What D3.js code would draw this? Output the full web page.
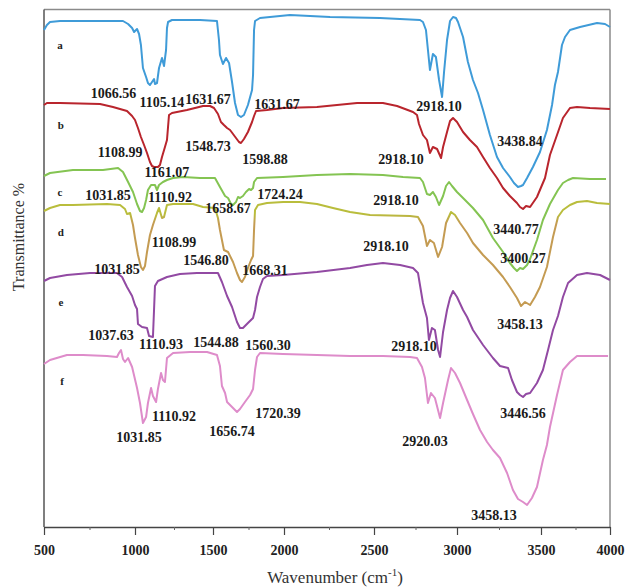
<!DOCTYPE html>
<html><head><meta charset="utf-8">
<script src="https://cdn.jsdelivr.net/npm/d3@7"></script>
<style>body{margin:0;background:#fff}svg{display:block}</style>
</head><body><svg id="c" width="632" height="587"></svg>
<script>
// ---- data (wavenumber cm-1, transmittance %, stacked/offset spectra) ----
const xTicks = [500,1000,1500,2000,2500,3000,3500,4000];
const xMinorTicks = [750,1250,1750,2250,2750,3250,3750];
const seriesNames = ["a","b","c","d","e","f"];

const seriesA = [[500,99.4],[516,100.4],[533,101],[588,101.2],[753,101.2],[934,101.2],[962,100.6],[984,99.8],[995,99],[1013,99.6],[1026,98.6],[1038,96.4],[1051,91.8],[1071,90],[1083,88.8],[1096,88.4],[1109,89],[1122,89.6],[1128,88.6],[1141,88.8],[1154,91.8],[1173,93.8],[1186,92.2],[1199,95.4],[1205,99.8],[1212,101],[1237,101.4],[1417,101.4],[1528,101.2],[1542,97.4],[1549,94.4],[1570,92.6],[1592,93.8],[1613,92.8],[1634,89],[1655,84.8],[1676,82.4],[1697,82],[1718,82.4],[1746,84.4],[1775,87.4],[1782,90.4],[1789,99.4],[1796,101.2],[1831,101.8],[2033,102.4],[2256,102],[2536,101.8],[2777,101.4],[2795,101],[2813,99.4],[2825,95.4],[2837,91.4],[2855,94.6],[2873,94],[2892,89.4],[2910,86],[2922,91],[2940,97.4],[2958,101.2],[2976,102],[2994,101.8],[3006,101],[3036,98],[3065,93],[3095,89.4],[3125,86.8],[3155,83.4],[3196,78.4],[3238,74],[3274,71.8],[3315,70],[3339,68.8],[3363,68],[3381,68.2],[3393,68.4],[3417,69.8],[3452,72],[3494,75],[3543,79.4],[3580,84.4],[3601,88.4],[3623,91],[3652,96.4],[3674,98],[3710,99.4],[3783,100],[3906,100.8],[3964,100.6],[4000,100]];

const seriesB = [[500,84.4],[516,84.8],[588,84.8],[808,84.6],[879,84],[956,83.2],[984,82.2],[1000,81.4],[1019,79.8],[1038,78],[1058,76.4],[1077,74.8],[1096,73],[1109,72.2],[1122,72],[1147,72],[1160,72.4],[1173,74],[1192,76],[1205,77.4],[1218,82.4],[1237,82.8],[1333,83.4],[1436,84.2],[1481,84.2],[1507,83.8],[1535,82.6],[1556,81],[1577,80.4],[1599,79.8],[1620,79.4],[1641,78.6],[1662,77.8],[1683,77],[1697,76.8],[1718,77.6],[1746,79],[1775,81],[1789,82.2],[1803,83.2],[1880,83.4],[1993,83.8],[2183,84],[2406,84.8],[2554,84.8],[2639,84.2],[2735,83],[2759,82.4],[2771,80.6],[2795,78.4],[2819,77.4],[2837,74.8],[2855,76],[2880,75.6],[2904,73.8],[2916,76],[2940,79],[2958,81.2],[2976,81.8],[3000,81],[3036,79],[3077,77.4],[3119,76],[3155,74],[3196,71.8],[3238,69.8],[3274,67.8],[3315,66.2],[3357,64.8],[3375,64],[3393,63.6],[3411,64.2],[3435,64],[3476,66],[3529,69.8],[3565,74.4],[3616,78.4],[3659,81.8],[3710,83.8],[3761,84],[3855,83.8],[4000,83.6]];

const seriesC = [[500,70.2],[533,70.8],[659,71.4],[824,71.4],[907,71.8],[934,71],[962,69],[989,67],[1013,64.6],[1032,63.2],[1045,63],[1058,63.8],[1071,65.4],[1083,67.4],[1103,68.4],[1128,68.4],[1141,67.4],[1154,68.4],[1179,69],[1205,69.4],[1244,69.8],[1308,70],[1417,69.8],[1514,69.8],[1549,68],[1585,66.2],[1606,65.8],[1627,64.6],[1641,64.4],[1662,65],[1676,66],[1690,65.8],[1711,66.2],[1732,67],[1754,67.6],[1768,67.4],[1782,67.8],[1789,69],[1810,69.8],[1993,70],[2183,70.4],[2367,70.6],[2554,70.4],[2675,70],[2777,69.8],[2795,69],[2819,66.6],[2837,66.4],[2855,67],[2873,66],[2892,64.4],[2916,66.2],[2934,68.2],[2952,69],[2970,68.2],[3000,67],[3036,65.8],[3095,63.8],[3155,61.4],[3214,57.8],[3274,55],[3315,52.8],[3339,51.8],[3357,51.2],[3375,51.8],[3393,51.6],[3417,52.4],[3435,53.6],[3476,57.4],[3514,61.4],[3565,64.6],[3623,67.4],[3659,68.8],[3696,69.4],[3732,69.8],[3855,69.6],[3971,69.6]];

const seriesD = [[500,63.2],[533,63.8],[588,64.4],[659,64.4],[846,64.6],[918,64.4],[945,63.6],[956,62.6],[973,62.8],[989,60.4],[1000,57.8],[1019,54.4],[1038,52],[1051,51.4],[1064,52.2],[1077,55],[1096,58.4],[1115,60.4],[1141,62.8],[1154,63.8],[1173,61.8],[1186,62],[1205,64.4],[1244,64.6],[1372,64.6],[1436,64],[1514,63.8],[1535,61.8],[1549,59.4],[1563,57.4],[1577,55.4],[1606,55],[1641,53],[1669,50.8],[1690,49.4],[1704,49],[1725,50],[1746,51.8],[1768,53.4],[1782,54.2],[1789,59.4],[1796,63.4],[1817,64.4],[1880,64.8],[1993,65],[2089,65],[2183,64.6],[2272,63.8],[2367,63],[2478,62.4],[2717,62.2],[2765,62],[2795,60.2],[2819,56.2],[2837,57.4],[2861,56.8],[2886,54],[2910,56],[2934,60.8],[2964,63],[2988,62.4],[3018,60.8],[3060,58.8],[3095,56.8],[3155,54.4],[3214,52.4],[3274,50],[3315,48],[3357,45.8],[3381,44.2],[3405,45],[3435,44.4],[3464,46],[3494,48],[3543,52],[3587,58],[3623,62],[3659,63.4],[3710,64.4],[3761,65],[3833,65.2],[3906,64.8],[4000,64.6]];

const seriesE = [[500,49.2],[533,49.8],[626,50.4],[753,50.8],[901,50.8],[929,50],[956,48],[984,46.2],[1000,44.4],[1013,43.6],[1019,40.6],[1045,40],[1077,39.8],[1090,38.2],[1115,38],[1122,43.4],[1128,48.2],[1147,49.2],[1205,50],[1288,50.6],[1397,50.8],[1535,50.8],[1563,49],[1599,46.2],[1634,44],[1669,41],[1690,39.8],[1711,39.8],[1746,40.8],[1782,41.8],[1796,43.4],[1810,46],[1831,48],[1852,49.6],[1880,50.2],[1993,50.4],[2183,51],[2367,51.8],[2461,52.4],[2554,52.8],[2657,52.4],[2735,51.8],[2765,50.8],[2777,48.4],[2795,44.8],[2819,41.8],[2831,37.4],[2849,39.8],[2867,39.4],[2886,35.4],[2898,34],[2916,39],[2940,43.4],[2958,45.8],[2976,47.2],[3000,46],[3036,43.4],[3060,42],[3095,39.4],[3155,36.4],[3214,33.8],[3256,32.2],[3304,31.8],[3327,29.4],[3357,27],[3375,26.4],[3393,26],[3411,26.6],[3435,26.8],[3476,28.8],[3514,31.4],[3551,35.4],[3587,39.4],[3623,42.2],[3659,46],[3696,48.8],[3761,50.4],[3833,50.8],[3928,50.4],[4000,49.4]];

const seriesF = [[500,32.6],[533,33.4],[626,34.4],[714,34.4],[846,34.2],[901,34],[912,34.8],[923,35.4],[934,33.6],[945,33],[962,33.8],[984,32],[1013,27.8],[1032,24.8],[1051,20.8],[1071,22],[1083,24.8],[1103,27.8],[1115,26.2],[1135,25],[1147,27.6],[1167,30.8],[1179,29.4],[1192,29],[1205,33.8],[1244,34.8],[1353,35],[1462,35],[1528,34.4],[1549,32.2],[1563,28.2],[1585,26.8],[1599,25],[1634,24],[1669,23],[1690,23.6],[1725,25],[1761,26.4],[1782,27.6],[1796,31.4],[1810,34],[1831,34.8],[1993,34.6],[2183,34.4],[2367,34.2],[2554,34.2],[2717,34],[2759,33.8],[2789,32],[2807,29.8],[2825,24.8],[2843,26.8],[2867,25.8],[2898,21.8],[2916,24.8],[2946,29.4],[2964,31.8],[2988,30.8],[3018,28.8],[3060,25.4],[3095,22.6],[3137,19.4],[3179,17],[3214,15.4],[3256,13.8],[3298,10.8],[3333,7.4],[3363,5.6],[3393,5],[3417,4.4],[3446,5.8],[3476,8],[3514,13.4],[3543,16.4],[3565,20],[3616,26.4],[3659,31.4],[3710,33],[3761,34.2],[3855,34.2],[3986,34.2]];

// series letter anchors (wavenumber, transmittance)
const seriesLetterAt = [[588,95.6],[593,79.6],[588,66.2],[593,58.2],[593,44.2],[599,28.4]];

// peak annotations: text, wavenumber, transmittance of label baseline
const peakLabels = [
 ["1066.56",882,85.8],["1105.14",1173,84],["1631.67",1468,84.6],["1631.67",1951,83.6],["2918.10",2892,83.2],["3438.84",3375,76.2],
 ["1108.99",918,74],["1548.73",1468,75.2],["1598.88",1866,72.6],["1161.07",1205,70],["2918.10",2663,72.6],
 ["1031.85",852,65.4],["1110.92",1224,65],["1724.24",1972,65.6],["1658.67",1606,62.8],["2918.10",2633,64.4],["3440.77",3351,58.6],
 ["1108.99",1250,56],["1546.80",1455,52.4],["1668.31",1866,50.4],["1031.85",901,50.6],["2918.10",2572,55.2],["3400.27",3393,52.8],["3458.13",3375,39.6],
 ["1037.63",868,37.4],["1110.93",1167,35.6],["1544.88",1521,36],["1560.30",1887,35.4],["2918.10",2741,35.2],["3446.56",3393,21.8],
 ["1110.92",1250,21.2],["1031.85",1026,17],["1656.74",1634,18.2],["1720.39",1958,21.8],["2920.03",2807,16.2],["3458.13",3220,1.4]
];

// ---- drawing ----
const svg = d3.select("#c");
const L = 44, R = 610, T = 9.5, B = 527;
const x = d3.scaleLinear().domain(xTicks).range([44,135,213,284,374,457,541,610]);
const y = d3.scaleLinear().domain([0,103.4]).range([B,T+0.5]);

const serif = "'Liberation Serif','Times New Roman',serif";
const colors = ["#3f9bd8","#b9252d","#84c452","url(#gd)","#924aa3","#de8cca"];

const defs = svg.append("defs");
const gd = defs.append("linearGradient").attr("id","gd")
  .attr("gradientUnits","userSpaceOnUse").attr("x1",0).attr("x2",0)
  .attr("y1",y(62.6)).attr("y2",y(60.8));
gd.append("stop").attr("offset",0).attr("stop-color","#b9bd3c");
gd.append("stop").attr("offset",1).attr("stop-color","#c49b52");

// frame
svg.append("line").attr("x1",L).attr("x2",R).attr("y1",T).attr("y2",T).attr("stroke","#8a8a8a").attr("stroke-width",1.5);
svg.append("line").attr("x1",R).attr("x2",R).attr("y1",T).attr("y2",B).attr("stroke","#8a8a8a").attr("stroke-width",1.5);
svg.append("line").attr("x1",L).attr("x2",L).attr("y1",T).attr("y2",B).attr("stroke","#555").attr("stroke-width",1.5);

// curves
const line = d3.line().x(d=>x(d[0])).y(d=>y(d[1])).curve(d3.curveLinear);
const allSeries = [seriesA,seriesB,seriesC,seriesD,seriesE,seriesF];
allSeries.forEach((s,i)=>{
  svg.append("path").datum(s).attr("d",line).attr("fill","none")
    .attr("stroke",colors[i]).attr("stroke-width",2).attr("stroke-linejoin","round");
});

// x axis
const ax = svg.append("g").attr("transform",`translate(0,${B})`)
  .call(d3.axisBottom(x).tickValues(xTicks).tickSize(8).tickSizeOuter(0).tickPadding(10).tickFormat(d3.format("d")));
ax.select(".domain").attr("stroke","#444").attr("stroke-width",1.3);
ax.selectAll(".tick line").attr("stroke","#444").attr("stroke-width",1.2);
ax.selectAll(".tick text").attr("font-family",serif).attr("font-size",14).attr("font-weight","bold").attr("fill","#222");
const axm = svg.append("g").attr("transform",`translate(0,${B})`)
  .call(d3.axisBottom(x).tickValues(xMinorTicks).tickSize(3).tickSizeOuter(0).tickFormat(""));
axm.select(".domain").remove();
axm.selectAll(".tick line").attr("stroke","#666");

// titles
const xt = svg.append("text").attr("x",335).attr("y",583).attr("text-anchor","middle")
  .attr("font-family",serif).attr("font-size",17).attr("fill","#333");
xt.append("tspan").text("Wavenumber (cm");
xt.append("tspan").text("-1").attr("font-size",11).attr("dy",-7);
xt.append("tspan").text(")").attr("dy",7);
svg.append("text").attr("transform","translate(24,237) rotate(-90)").attr("text-anchor","middle")
  .attr("font-family",serif).attr("font-size",16).attr("fill","#333").text("Transmittance %");

// series letters
svg.selectAll("text.sl").data(seriesNames).join("text").attr("class","sl")
  .attr("x",(d,i)=>x(seriesLetterAt[i][0])).attr("y",(d,i)=>y(seriesLetterAt[i][1]))
  .attr("text-anchor","middle").attr("font-family",serif).attr("font-size",11).attr("font-weight","bold")
  .attr("fill","#222").text(d=>d);

// peak labels
svg.selectAll("text.pk").data(peakLabels).join("text").attr("class","pk")
  .attr("x",d=>x(d[1])).attr("y",d=>y(d[2]))
  .attr("text-anchor","middle").attr("font-family",serif).attr("font-size",14).attr("font-weight","bold")
  .attr("fill","#1a1a1a").text(d=>d[0]);
</script></body></html>
